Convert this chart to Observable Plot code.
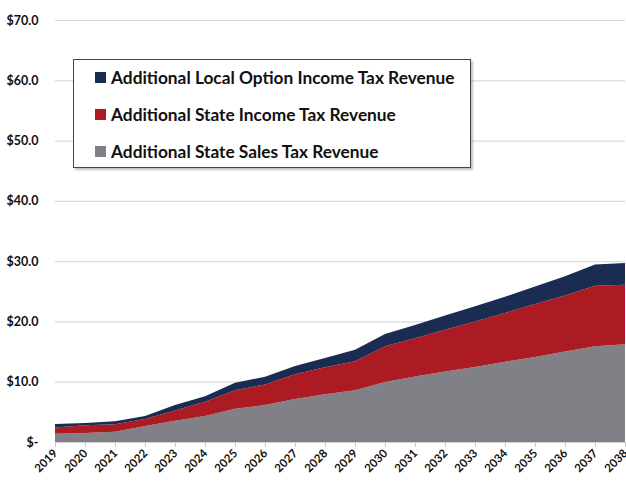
<!DOCTYPE html>
<html>
<head>
<meta charset="utf-8">
<script src="https://cdn.jsdelivr.net/npm/d3@7"></script>
<script src="https://cdn.jsdelivr.net/npm/@observablehq/plot@0.6"></script>
<style>
  body { margin: 0; background: #fff; }
  #wrap { position: relative; width: 626px; height: 482px; overflow: hidden; }
  #legend {
    position: absolute; left: 73px; top: 59px; width: 398px; height: 109px;
    border: 1.5px solid #444; background: #fff; box-shadow: 2px 2px 2px rgba(0,0,0,0.25);
    font-family: Lato, "Open Sans", sans-serif; font-weight: 700; font-size: 17.3px; color: #111;
    box-sizing: border-box;
  }
  .item { position: absolute; left: 21px; display: flex; align-items: center; white-space: nowrap; }
  .sw { width: 11px; height: 11px; margin-right: 5px; }
</style>
</head>
<body>
<div id="wrap"><div id="chart"></div><div id="legend"></div></div>
<script>
const years = [2019,2020,2021,2022,2023,2024,2025,2026,2027,2028,2029,2030,2031,2032,2033,2034,2035,2036,2037,2038];
const salesTax = [1.35,1.5,1.68,2.64,3.54,4.33,5.5,6.13,7.14,7.9,8.57,9.97,10.85,11.7,12.45,13.3,14.1,15.0,15.9,16.2];
const stateIncomeTax = [1.07,1.26,1.25,1.18,1.68,2.35,3.09,3.42,4.09,4.5,4.83,5.93,6.35,6.9,7.55,8.1,8.8,9.3,10.0,9.9];
const localIncomeTax = [0.56,0.39,0.5,0.51,0.91,0.9,1.24,1.29,1.37,1.55,1.9,2.0,2.2,2.4,2.5,2.7,2.9,3.2,3.55,3.6];
const seriesNames = ["Additional State Sales Tax Revenue","Additional State Income Tax Revenue","Additional Local Option Income Tax Revenue"];
const seriesColors = ["#808086","#ad1b22","#1b2c52"];
const yTicks = [0,10,20,30,40,50,60,70];

const seriesValues = [salesTax, stateIncomeTax, localIncomeTax];
const data = [];
seriesNames.forEach((name, i) => years.forEach((yr, j) => data.push({year: yr, series: name, value: seriesValues[i][j]})));

const font = "Lato, 'Open Sans', sans-serif";
const chart = Plot.plot({
  width: 626, height: 482,
  marginLeft: 55, marginRight: 1, marginTop: 20, marginBottom: 40,
  style: {fontFamily: font, fontWeight: 700, fontSize: "12.5px", color: "#111", background: "#fff"},
  x: {domain: [2019, 2038], axis: null},
  y: {domain: [0, 70], axis: null},
  color: {domain: seriesNames, range: seriesColors},
  marks: [
    Plot.gridY(yTicks, {stroke: "#d9d9d9", strokeOpacity: 1, strokeWidth: 1.2}),
    Plot.areaY(data, {x: "year", y: "value", fill: "series", order: seriesNames, z: "series"}),
    Plot.ruleY([0], {stroke: "#d0d0d0", strokeWidth: 1.2}),
    Plot.axisY(yTicks, {label: null, tickSize: 0, tickPadding: 17, tickFormat: d => d === 0 ? "$-" : "$" + d.toFixed(1), fontSize: 12.5, fontWeight: 700}),
    Plot.axisX(years, {label: null, tickSize: 5, stroke: "#c8c8c8", strokeOpacity: 1, tickRotate: -45, tickPadding: 4, tickFormat: d => String(d), fontSize: 11.5, fontWeight: 700, textAnchor: "end"})
  ]
});
document.getElementById("chart").appendChild(chart);

const legend = document.getElementById("legend");
const legendOrder = [2, 1, 0];
legendOrder.forEach((idx, k) => {
  const it = document.createElement("div");
  it.className = "item";
  it.style.top = (6 + k * 37) + "px";
  it.style.height = "22px";
  it.innerHTML = `<div class="sw" style="background:${seriesColors[idx]}"></div><span>${seriesNames[idx]}</span>`;
  legend.appendChild(it);
});
</script>
</body>
</html>
